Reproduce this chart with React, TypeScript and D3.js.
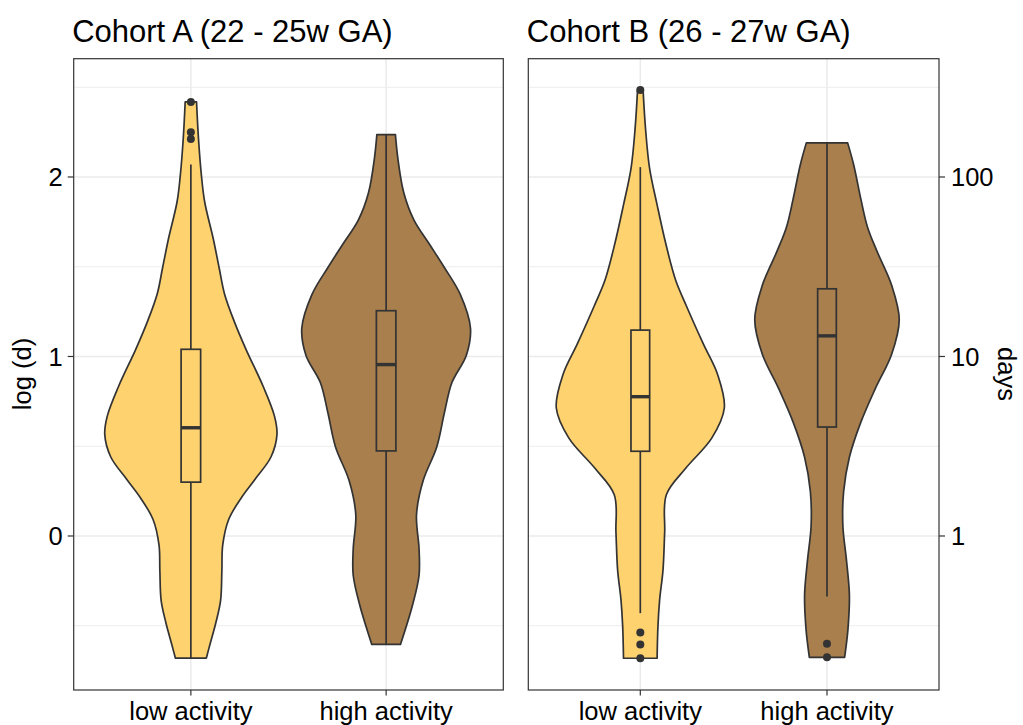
import React from 'react';
import * as d3 from 'd3';

// ---------- data ----------
const categories = ['low activity', 'high activity'];
const panelTitles = ['Cohort A (22 - 25w GA)', 'Cohort B (26 - 27w GA)'];
const fillColors = ['#FFD270', '#A87F4D'];

const leftTicks = [0, 1, 2];
const leftTickLabels = ['0', '1', '2'];
const rightTicks = [0, 1, 2];
const rightTickLabels = ['1', '10', '100'];
const minorBreaks = [-0.5, 0.5, 1.5, 2.5];

// density profiles: [log(d), relative density]
const densALow: [number, number][] = [
  [-0.68, 0.18], [-0.607, 0.22], [-0.483, 0.29], [-0.36, 0.345], [-0.195, 0.36],
  [-0.05, 0.37], [0.093, 0.44], [0.216, 0.59], [0.319, 0.75], [0.44, 0.93],
  [0.566, 1.0], [0.669, 0.97], [0.833, 0.84], [1.04, 0.64], [1.2, 0.5],
  [1.35, 0.39], [1.49, 0.33], [1.656, 0.26], [1.862, 0.16], [2.006, 0.123],
  [2.21, 0.089], [2.418, 0.066],
];
const densAHigh: [number, number][] = [
  [-0.604, 0.17], [-0.39, 0.31], [-0.22, 0.39], [-0.07, 0.39], [0.119, 0.36],
  [0.31, 0.44], [0.496, 0.6], [0.685, 0.69], [0.855, 0.78], [1.006, 0.95],
  [1.157, 1.0], [1.345, 0.88], [1.496, 0.69], [1.628, 0.51], [1.76, 0.33],
  [1.911, 0.21], [2.1, 0.14], [2.236, 0.11],
];
const densBLow: [number, number][] = [
  [-0.681, 0.2], [-0.503, 0.21], [-0.356, 0.23], [-0.19, 0.27], [0.021, 0.29],
  [0.23, 0.31], [0.377, 0.54], [0.545, 0.85], [0.713, 1.0], [0.9, 0.92],
  [1.07, 0.75], [1.28, 0.55], [1.426, 0.42], [1.635, 0.3], [1.845, 0.2],
  [2.05, 0.11], [2.264, 0.063], [2.484, 0.033],
];
const densBHigh: [number, number][] = [
  [-0.676, 0.244], [-0.52, 0.29], [-0.328, 0.31], [-0.136, 0.27], [0.056, 0.22],
  [0.247, 0.23], [0.439, 0.31], [0.63, 0.465], [0.822, 0.67], [1.013, 0.895],
  [1.205, 1.0], [1.397, 0.895], [1.588, 0.69], [1.722, 0.56], [1.875, 0.47],
  [2.067, 0.37], [2.19, 0.286],
];

// relative maximum width of each violin (scale = "area")
const areaScaleA = [0.98, 0.96];
const areaScaleB = [1.0, 0.86];

// box stats: [lower whisker, q1, median, q3, upper whisker]
const boxALow = [-0.68, 0.3, 0.603, 1.04, 2.07];
const boxAHigh = [-0.604, 0.474, 0.955, 1.255, 2.236];
const boxBLow = [-0.43, 0.472, 0.776, 1.147, 2.055];
const boxBHigh = [-0.337, 0.607, 1.115, 1.377, 2.19];

const outALow = [2.212, 2.249, 2.418];
const outAHigh: number[] = [];
const outBLow = [-0.681, -0.604, -0.537, 2.484];
const outBHigh = [-0.676, -0.6];

// ---------- layout ----------
const W = 1023;
const H = 725;
const FONT = 'Liberation Sans, Arial, Helvetica, sans-serif';
const panelTop = 58.7;
const panelBottom = 690;
const panelsX: [number, number][] = [[73.7, 503.3], [528.3, 939]];

const y = d3.scaleLinear().domain([-0.858, 2.659]).range([panelBottom, panelTop]);

const panelData = [
  { dens: [densALow, densAHigh], box: [boxALow, boxAHigh], out: [outALow, outAHigh], area: areaScaleA },
  { dens: [densBLow, densBHigh], box: [boxBLow, boxBHigh], out: [outBLow, outBHigh], area: areaScaleB },
];

const INK = '#333333';
const LW = 1.7;

function Panel({ idx }: { idx: number }) {
  const [x0, x1] = panelsX[idx];
  const x = d3.scalePoint<string>().domain(categories).range([x0, x1]).padding(0.6);
  const step = x.step();
  const pd = panelData[idx];
  return (
    <g>
      <rect x={x0} y={panelTop} width={x1 - x0} height={panelBottom - panelTop} fill="#fff" />
      {minorBreaks.map((b) => (
        <line key={'mn' + b} x1={x0} x2={x1} y1={y(b)} y2={y(b)} stroke="#EBEBEB" strokeWidth={0.9} />
      ))}
      {leftTicks.map((b) => (
        <line key={'mj' + b} x1={x0} x2={x1} y1={y(b)} y2={y(b)} stroke="#EBEBEB" strokeWidth={1.5} />
      ))}
      {categories.map((c) => (
        <line key={'v' + c} x1={x(c)} x2={x(c)} y1={panelTop} y2={panelBottom} stroke="#EBEBEB" strokeWidth={1.5} />
      ))}
      {categories.map((c, i) => {
        const cx = x(c) as number;
        const maxHalf = 0.45 * step * pd.area[i];
        const area = d3
          .area<[number, number]>()
          .y((d) => y(d[0]))
          .x0((d) => cx - d[1] * maxHalf)
          .x1((d) => cx + d[1] * maxHalf)
          .curve(d3.curveCatmullRom.alpha(0.5));
        const b = pd.box[i];
        const bw = 0.1 * step;
        return (
          <g key={'vio' + c}>
            <path d={area(pd.dens[i]) as string} fill={fillColors[i]} stroke={INK} strokeWidth={LW} strokeLinejoin="round" />
            <line x1={cx} x2={cx} y1={y(b[3])} y2={y(b[4])} stroke={INK} strokeWidth={LW} />
            <line x1={cx} x2={cx} y1={y(b[0])} y2={y(b[1])} stroke={INK} strokeWidth={LW} />
            <rect x={cx - bw / 2} y={y(b[3])} width={bw} height={y(b[1]) - y(b[3])} fill={fillColors[i]} stroke={INK} strokeWidth={LW} />
            <line x1={cx - bw / 2} x2={cx + bw / 2} y1={y(b[2])} y2={y(b[2])} stroke={INK} strokeWidth={3.4} />
            {pd.out[i].map((o, k) => (
              <circle key={k} cx={cx} cy={y(o)} r={4} fill={INK} />
            ))}
          </g>
        );
      })}
      <rect x={x0} y={panelTop} width={x1 - x0} height={panelBottom - panelTop} fill="none" stroke={INK} strokeWidth={1.2} />
      {categories.map((c) => (
        <g key={'xt' + c}>
          <line x1={x(c)} x2={x(c)} y1={panelBottom} y2={panelBottom + 5.5} stroke={INK} strokeWidth={1.2} />
          <text x={x(c)} y={720} textAnchor="middle" fontSize={25.5} fontFamily={FONT} fill="#000">
            {c}
          </text>
        </g>
      ))}
      <text x={x0 - 1.5} y={41.5} fontSize={31} fontFamily={FONT} fill="#000">
        {panelTitles[idx]}
      </text>
    </g>
  );
}

export default function App() {
  const [lx0] = panelsX[0];
  const [, rx1] = panelsX[1];
  return (
    <svg
      width={W}
      height={H}
      viewBox={`0 0 ${W} ${H}`}
      style={{ position: 'absolute', left: 0, top: 0, background: '#fff' }}
    >
      <rect x={0} y={0} width={W} height={H} fill="#fff" />
      <Panel idx={0} />
      <Panel idx={1} />
      {leftTicks.map((t, i) => (
        <g key={'lt' + t}>
          <line x1={lx0 - 6} x2={lx0} y1={y(t)} y2={y(t)} stroke={INK} strokeWidth={1.2} />
          <text x={lx0 - 11} y={y(t)} dy="0.36em" textAnchor="end" fontSize={25.5} fontFamily={FONT} fill="#000">
            {leftTickLabels[i]}
          </text>
        </g>
      ))}
      {rightTicks.map((t, i) => (
        <g key={'rt' + t}>
          <line x1={rx1} x2={rx1 + 6} y1={y(t)} y2={y(t)} stroke={INK} strokeWidth={1.2} />
          <text x={rx1 + 12} y={y(t)} dy="0.36em" textAnchor="start" fontSize={25.5} fontFamily={FONT} fill="#000">
            {rightTickLabels[i]}
          </text>
        </g>
      ))}
      <text transform="translate(31,374) rotate(-90)" textAnchor="middle" fontSize={25.5} fontFamily={FONT} fill="#000">
        log (d)
      </text>
      <text transform="translate(998,374) rotate(90)" textAnchor="middle" fontSize={25.5} fontFamily={FONT} fill="#000">
        days
      </text>
    </svg>
  );
}
